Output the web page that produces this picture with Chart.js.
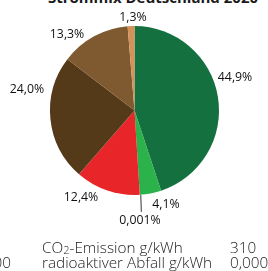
<!DOCTYPE html>
<html>
<head>
<meta charset="utf-8">
<script src="https://cdn.jsdelivr.net/npm/chart.js@4/dist/chart.umd.min.js"></script>
<style>
  html, body { margin: 0; padding: 0; background: #fff; }
  #wrap { position: relative; width: 268px; height: 271px; overflow: hidden; font-family: "Open Sans", sans-serif; color: #1a1a1a; }
  #chart { position: absolute; left: 0; top: 0; }
  .title { position: absolute; left: 48px; top: -11px; font-size: 15px; line-height: 16px; font-weight: 700; white-space: nowrap; }
  .row { position: absolute; font-size: 15.3px; line-height: 15px; font-weight: 300; white-space: nowrap; }
  .row sub { font-size: 0.72em; vertical-align: -1px; }
</style>
</head>
<body>
<div id="wrap">
  <div class="title">Strommix Deutschland 2020</div>
  <canvas id="chart" width="268" height="271"></canvas>
  <div class="row" style="left:42px; top:240px">CO<sub>2</sub>-Emission g/kWh</div>
  <div class="row" style="left:230px; top:240px">310</div>
  <div class="row" style="left:42px; top:255px">radioaktiver Abfall g/kWh</div>
  <div class="row" style="left:230px; top:255px">0,0004</div>
  <div class="row" style="right:257px; top:255px">0,0000</div>
</div>
<script>
// Strommix shares, clockwise from the top
const sources = ["Erneuerbare", "Erdgas", "Sonstige", "Kernkraft", "Braunkohle", "Steinkohle", "Öl"];
const shares = [44.9, 4.1, 0.001, 12.4, 24.0, 13.3, 1.3];
const shareLabels = ["44,9%", "4,1%", "0,001%", "12,4%", "24,0%", "13,3%", "1,3%"];
const colors = ["#15703f", "#2cb24b", "#9a9a9a", "#e8262a", "#553a1a", "#7f5a30", "#d3925a"];

// label placement: angle (deg, clockwise from top) and distance as a factor of the radius
const labelAngle = [71.6, 161.4, 177.2, 211.7, 281.3, 318.6, 359.1];
const labelDist = [1.254, 1.168, 1.309, 1.204, 1.297, 1.207, 1.095];

const pieLabels = {
  id: "pieLabels",
  afterDatasetsDraw(chart) {
    const ctx = chart.ctx;
    const arcs = chart.getDatasetMeta(0).data;
    ctx.save();
    ctx.font = "12.3px 'Open Sans', sans-serif";
    ctx.fillStyle = "#111";
    ctx.textAlign = "center";
    ctx.textBaseline = "middle";
    arcs.forEach((arc, i) => {
      const r = arc.outerRadius;
      const a = labelAngle[i] * Math.PI / 180;
      const x = arc.x + Math.sin(a) * r * labelDist[i];
      const y = arc.y - Math.cos(a) * r * labelDist[i];
      ctx.fillText(shareLabels[i], x, y);
      if (shares[i] < 0.01) {
        // leader line for the tiny slice
        const mid = (arc.startAngle + arc.endAngle) / 2;
        const ex = arc.x + Math.cos(mid) * r + 1;
        const ey = arc.y + Math.sin(mid) * r;
        ctx.strokeStyle = "#333";
        ctx.lineWidth = 1;
        ctx.beginPath();
        ctx.moveTo(ex, ey);
        ctx.lineTo(ex + 0.5, ey + 17);
        ctx.stroke();
      }
    });
    ctx.restore();
  }
};

new Chart(document.getElementById("chart"), {
  type: "pie",
  data: {
    labels: sources,
    datasets: [{
      data: shares,
      backgroundColor: colors,
      borderWidth: 0,
    }],
  },
  options: {
    responsive: false,
    animation: false,
    layout: { padding: { left: 50, right: 49, top: 26, bottom: 76 } },
    plugins: {
      legend: { display: false },
      tooltip: { enabled: false },
    },
  },
  plugins: [pieLabels],
});
</script>
</body>
</html>
